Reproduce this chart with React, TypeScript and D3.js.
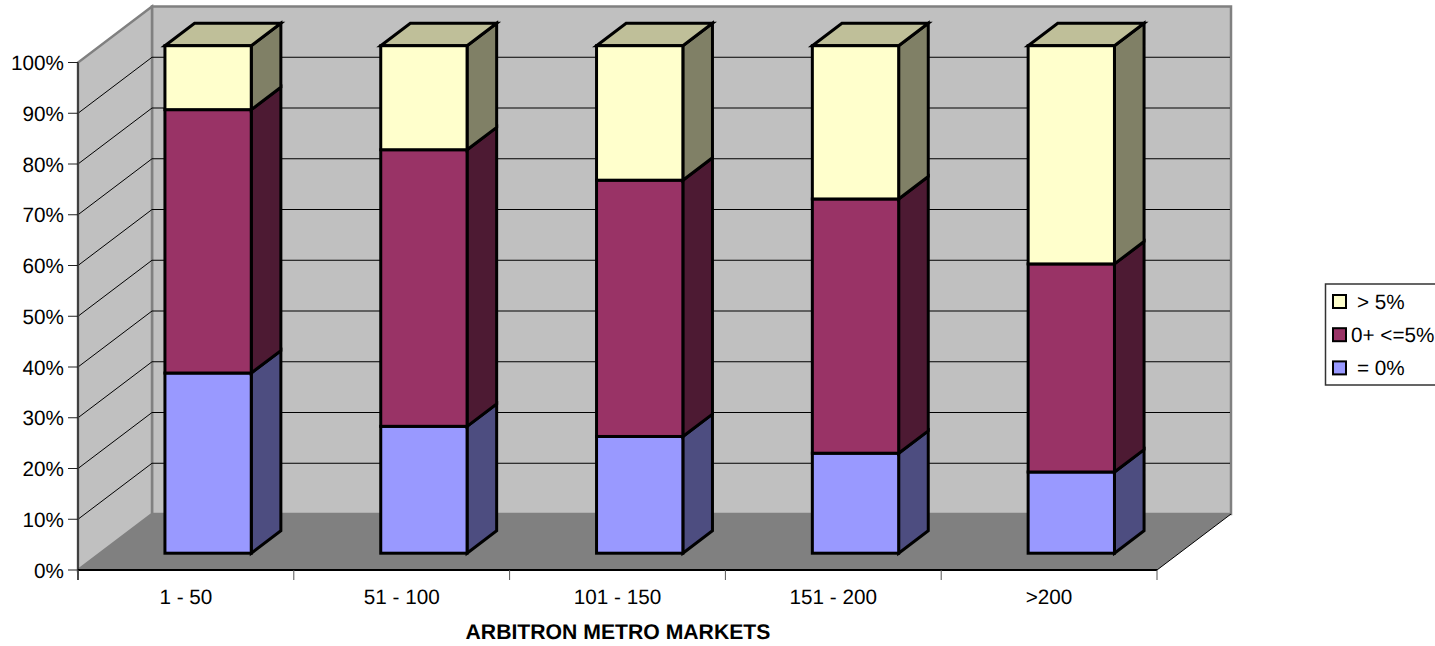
import React from "react";
import * as d3 from "d3";

const categories = ["1 - 50", "51 - 100", "101 - 150", "151 - 200", ">200"];
const zeroShare = [35.5, 25, 23, 19.7, 16];
const lowShare = [51.9, 54.5, 50.5, 50.1, 41];
const highShare = [12.6, 20.5, 26.5, 30.2, 43];
const seriesKeys = ["zero", "low", "high"];
const seriesLabels = ["= 0%", "0+ <=5%", "> 5%"];
const frontColors = ["#9999ff", "#993366", "#ffffcc"];
const sideColors = ["#4d4d80", "#4d1a33", "#808066"];
const topColors = ["#7373bf", "#732640", "#bfbf99"];
const yTicks = [0, 10, 20, 30, 40, 50, 60, 70, 80, 90, 100];
const axisTitle = "ARBITRON METRO MARKETS";

const font = "'Liberation Sans', Arial, sans-serif";
const labelSize = 20.7;
const depthX = 74;
const depthY = -56;
const x = d3.scaleBand<string>().domain(categories).range([78, 1157]);
const y = d3.scaleLinear().domain([0, 100]).range([570, 62.5]);

// Oblique projection of a plot point at a fractional depth into the box.
const px = (v: number, depth: number) => v + depth * depthX;
const py = (v: number, depth: number) => y(v) + depth * depthY;
const poly = (pts: [number, number][]) => d3.line()(pts)! + "Z";

const rows = categories.map((c, i) => ({
  category: c,
  zero: zeroShare[i],
  low: lowShare[i],
  high: highShare[i],
}));
const stacked = d3.stack<any>().keys(seriesKeys)(rows);

const BAR_NEAR = 0.3;
const BAR_FAR = 0.7;

function Bar({ cat, lo, hi, s }: { cat: string; lo: number; hi: number; s: number }) {
  const bw = x.bandwidth();
  const x0 = px(x(cat)! + bw * 0.3, BAR_NEAR);
  const x1 = x0 + bw * 0.4;
  const dx = (BAR_FAR - BAR_NEAR) * depthX;
  const dy = (BAR_FAR - BAR_NEAR) * depthY;
  const yLo = py(lo, BAR_NEAR);
  const yHi = py(hi, BAR_NEAR);
  const stroke = { stroke: "#000", strokeWidth: 3, strokeLinejoin: "miter" as const };
  return (
    <g>
      <path d={poly([[x1, yLo], [x1 + dx, yLo + dy], [x1 + dx, yHi + dy], [x1, yHi]])} fill={sideColors[s]} {...stroke} />
      {s === 2 && (
        <path d={poly([[x0, yHi], [x0 + dx, yHi + dy], [x1 + dx, yHi + dy], [x1, yHi]])} fill={topColors[s]} {...stroke} />
      )}
      <rect x={x0} y={yHi} width={x1 - x0} height={yLo - yHi} fill={frontColors[s]} {...stroke} />
    </g>
  );
}

export default function App() {
  const [xL, xR] = x.range();
  return (
    <svg
      width={1435}
      height={646}
      textRendering="geometricPrecision"
      style={{ position: "absolute", left: 0, top: 0, background: "#fff", fontFamily: font }}
    >
      {/* back wall and side wall */}
      <path d={poly([[px(xL, 1), py(0, 1)], [px(xR, 1), py(0, 1)], [px(xR, 1), py(100, 1)], [px(xL, 1), py(100, 1)]])} fill="#c0c0c0" stroke="#808080" strokeWidth={2.5} />
      <path d={poly([[xL, y(0)], [px(xL, 1), py(0, 1)], [px(xL, 1), py(100, 1)], [xL, y(100)]])} fill="#c0c0c0" stroke="#808080" strokeWidth={2.5} />

      {/* floor */}
      <path d={poly([[xL, y(0)], [xR, y(0)], [px(xR, 1), py(0, 1)], [px(xL, 1), py(0, 1)]])} fill="#808080" />
      <line x1={xR} y1={y(0)} x2={px(xR, 1)} y2={py(0, 1)} stroke="#000" strokeWidth={1} />

      {/* gridlines across the side wall and back wall */}
      {yTicks.filter((t) => t > 0 && t < 100).map((t) => (
        <path
          key={t}
          d={d3.line()([[xL, y(t)], [px(xL, 1), py(t, 1)], [px(xR, 1) - 1, py(t, 1)]])!}
          fill="none"
          stroke="#000"
          strokeWidth={1}
        />
      ))}

      {/* value axis */}
      <line x1={xL} y1={y(100)} x2={xL} y2={y(0) + 10} stroke="#404040" strokeWidth={2} />
      {yTicks.map((t) => (
        <g key={t}>
          <line x1={xL - 10} x2={xL} y1={y(t)} y2={y(t)} stroke="#222" strokeWidth={1} />
          <text x={xL - 14} y={y(t) + 7.5} textAnchor="end" fontSize={labelSize} fill="#000">
            {t}%
          </text>
        </g>
      ))}

      {/* category axis */}
      <line x1={xL} x2={xR} y1={y(0)} y2={y(0)} stroke="#000" strokeWidth={2} />
      {[...categories.map((c) => x(c)!), xR].map((v) => (
        <line key={v} x1={v} x2={v} y1={y(0)} y2={y(0) + 10} stroke="#555" strokeWidth={1} />
      ))}
      {categories.map((c) => (
        <text key={c} x={x(c)! + x.bandwidth() / 2} y={604} textAnchor="middle" fontSize={labelSize} fill="#000">
          {c}
        </text>
      ))}
      <text x={618} y={639} textAnchor="middle" fontSize={21.2} fontWeight="bold" fill="#000">
        {axisTitle}
      </text>

      {/* stacked columns */}
      {categories.map((c, i) => (
        <g key={c}>
          {stacked.map((layer, s) => (
            <Bar key={s} cat={c} lo={layer[i][0]} hi={layer[i][1]} s={s} />
          ))}
        </g>
      ))}

      {/* legend */}
      <rect x={1325.5} y={284} width={120} height={101} fill="#fff" stroke="#333" strokeWidth={1.5} />
      {[2, 1, 0].map((s, row) => (
        <g key={s}>
          <rect x={1333} y={295 + row * 33.2} width={13} height={13} fill={frontColors[s]} stroke="#000" strokeWidth={2} />
          <text x={s === 1 ? 1351 : 1357} y={308.5 + row * 33.2} fontSize={labelSize} fill="#000">
            {seriesLabels[s]}
          </text>
        </g>
      ))}
    </svg>
  );
}
